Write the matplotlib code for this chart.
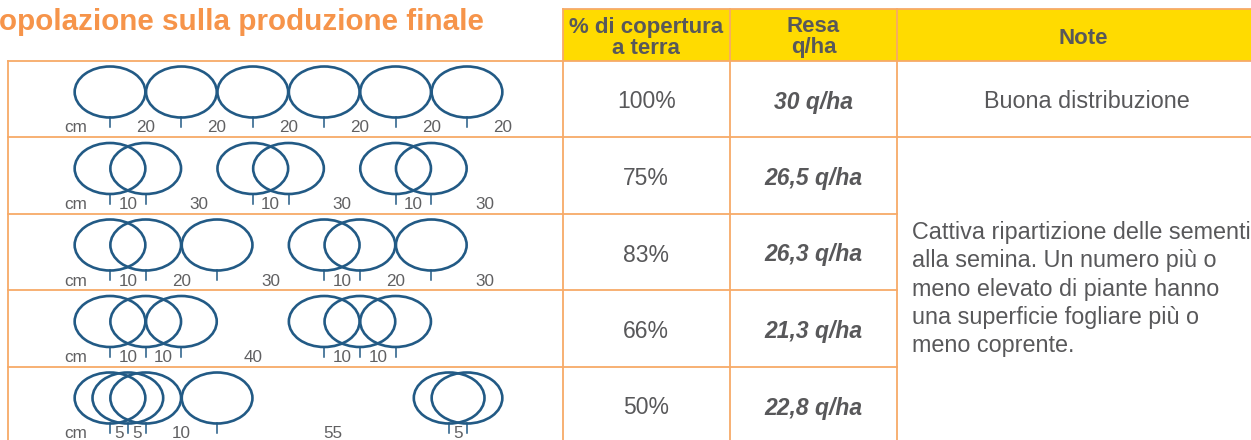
import matplotlib
matplotlib.use("Agg")
import matplotlib.pyplot as plt
from matplotlib.patches import Ellipse, Rectangle

# plant positions along the row (cm) and the spacing labels under each row
row1_cm = [0, 20, 40, 60, 80, 100]
row2_cm = [0, 10, 40, 50, 80, 90]
row3_cm = [0, 10, 30, 60, 70, 90]
row4_cm = [0, 10, 20, 60, 70, 80]
row5_cm = [0, 5, 10, 30, 95, 100]
row1_lbl = ["20", "20", "20", "20", "20", "20"]
row2_lbl = ["10", "30", "10", "30", "10", "30"]
row3_lbl = ["10", "20", "30", "10", "20", "30"]
row4_lbl = ["10", "10", "40", "10", "10"]
row5_lbl = ["5", "5", "10", "55", "5"]
row_len_cm = 120

coverage = ["100%", "75%", "83%", "66%", "50%"]
yields = ["30 q/ha", "26,5 q/ha", "26,3 q/ha", "21,3 q/ha", "22,8 q/ha"]
note_good = "Buona distribuzione"
note_bad = ("Cattiva ripartizione delle sementi\nalla semina. Un numero più o\n"
            "meno elevato di piante hanno\nuna superficie fogliare più o\nmeno coprente.")
title = "opolazione sulla produzione finale"

ORANGE = "#F6944A"
LINE = "#F7AA68"
YELLOW = "#FFDB00"
GREY = "#58585A"
BLUE = "#225A85"
FONT = "Liberation Sans"

plt.rcParams["font.family"] = [FONT, "DejaVu Sans"]

fig = plt.figure(figsize=(12.51, 4.40), dpi=100)
ax = fig.add_axes([0, 0, 1, 1])
ax.set_xlim(0, 1251)
ax.set_ylim(440, 0)
ax.axis("off")

# layout in pixels
row_tops = [61, 137.5, 214, 290.5, 367]
row_h = 76.5
bottom = row_tops[-1] + row_h
x_left, x_mid, c1, c2, x_right = 8.3, 562.5, 730, 897, 1270
x0, px_cm = 110, 3.57

# title
ax.text(484, 30, title, ha="right", va="baseline", fontsize=21.3,
        fontweight="bold", color=ORANGE)

# header
ax.add_patch(Rectangle((x_mid, 9), x_right - x_mid, 52, facecolor=YELLOW,
                       edgecolor="none", zorder=0))
hdr = dict(ha="center", va="baseline", fontsize=16, fontweight="bold", color=GREY)
ax.text((x_mid + c1) / 2, 32.5, "% di copertura", **hdr)
ax.text((x_mid + c1) / 2, 53.5, "a terra", **hdr)
ax.text((c1 + c2) / 2, 32.5, "Resa", **hdr)
ax.text((c1 + c2) / 2, 53.5, "q/ha", **hdr)
ax.text(1083, 43.5, "Note", **hdr)

# grid lines
lw = 1.3
ax.plot([x_mid, x_right], [9, 9], color=LINE, lw=lw)
ax.plot([x_left, x_right], [61, 61], color=LINE, lw=lw)
ax.plot([x_left, x_right], [row_tops[1], row_tops[1]], color=LINE, lw=lw)
for y in row_tops[2:]:
    ax.plot([x_left, c2], [y, y], color=LINE, lw=lw)
ax.plot([x_left, x_left], [61, bottom], color=LINE, lw=lw)
for x in (x_mid, c1, c2):
    ax.plot([x, x], [9, bottom], color=LINE, lw=lw)

# plant diagrams
rows_cm = [row1_cm, row2_cm, row3_cm, row4_cm, row5_cm]
rows_lbl = [row1_lbl, row2_lbl, row3_lbl, row4_lbl, row5_lbl]
ell_w, ell_h = 19.8 * px_cm, 51
for top, pos, lbls in zip(row_tops, rows_cm, rows_lbl):
    cy = top + 31
    for p in pos:
        cx = x0 + p * px_cm
        ax.add_patch(Ellipse((cx, cy), ell_w, ell_h, facecolor="none",
                             edgecolor=BLUE, lw=1.9))
        ax.plot([cx, cx], [cy + ell_h / 2, cy + ell_h / 2 + 10], color=BLUE, lw=1.1)
    ends = pos + [row_len_cm]
    base = top + 71.5
    ax.text(64, base, "cm", ha="left", va="baseline", fontsize=12.3, color="#606062")
    for i, lb in enumerate(lbls):
        mx = x0 + (ends[i] + ends[i + 1]) / 2 * px_cm
        ax.text(mx, base, lb, ha="center", va="baseline", fontsize=12.3,
                color="#606062")

# table values
for top, cov, yl in zip(row_tops, coverage, yields):
    base = top + 47.5
    ax.text((x_mid + c1) / 2, base, cov, ha="center", va="baseline",
            fontsize=16.5, color=GREY)
    ax.text((c1 + c2) / 2, base, yl, ha="center", va="baseline", fontsize=16.5,
            fontweight="bold", fontstyle="italic", color=GREY)

ax.text(1087, row_tops[0] + 47.5, note_good, ha="center", va="baseline",
        fontsize=16.8, color=GREY)
for i, line in enumerate(note_bad.split("\n")):
    ax.text(912.5, 239.3 + 28.2 * i, line, ha="left", va="baseline",
            fontsize=16.8, color=GREY)

fig.savefig("out.png", dpi=100)
